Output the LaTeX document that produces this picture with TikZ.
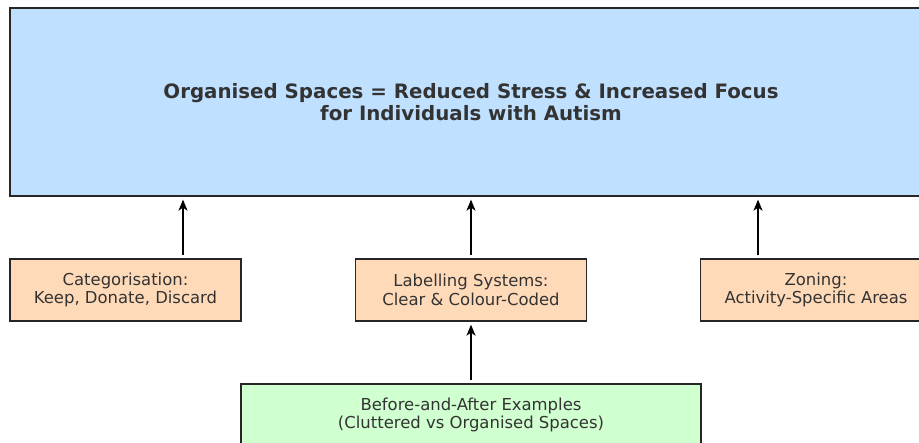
\documentclass[tikz,border=0pt]{standalone}
\usepackage{fontspec}
\setmainfont{DejaVu Sans}
\usetikzlibrary{arrows.meta}
\definecolor{topblue}{HTML}{BFE0FF}
\definecolor{peach}{HTML}{FFDAB9}
\definecolor{mint}{HTML}{D0FFD0}
\definecolor{ink}{HTML}{333333}
\tikzset{
  box/.style={draw=black!85, line width=1.3pt, text=ink, align=center, inner sep=0pt},
  topbox/.style={box, fill=topblue, minimum width=922pt, minimum height=188pt,
    font=\fontsize{19.8}{22.5}\selectfont\bfseries},
  midbox/.style={box, fill=peach, minimum width=231pt, minimum height=62pt,
    font=\fontsize{16.45}{18.5}\selectfont},
  lowbox/.style={box, fill=mint, minimum width=460pt, minimum height=62pt,
    font=\fontsize{16.45}{18.5}\selectfont},
  arr/.style={draw=black, line width=1.3pt, -{Stealth[length=11pt,width=9pt,inset=3pt]},
    shorten >=3pt, shorten <=3pt}
}
\begin{document}
\begin{tikzpicture}[x=1pt,y=-1pt]
\useasboundingbox (0,0) rectangle (919,443);
\clip (0,0) rectangle (919,443);
\node[topbox] (top) at (471,102) {Organised Spaces = Reduced Stress \& Increased Focus\\for Individuals with Autism};
\node[midbox] (cat) at (125.5,290) {Categorisation:\\Keep, Donate, Discard};
\node[midbox] (lab) at (471,290) {Labelling Systems:\\Clear \& Colour-Coded};
\node[midbox] (zon) at (816,290) {Zoning:\\Activity-Specific Areas};
\node[lowbox] (ba) at (471,415) {Before-and-After Examples\\(Cluttered vs Organised Spaces)};
\draw[arr] ([xshift=57.5pt]cat.north) -- ([xshift=57.5pt]cat.north |- top.south);
\draw[arr] (lab.north) -- (top.south);
\draw[arr] ([xshift=-58pt]zon.north) -- ([xshift=-58pt]zon.north |- top.south);
\draw[arr] (ba.north) -- (lab.south);
\end{tikzpicture}
\end{document}
